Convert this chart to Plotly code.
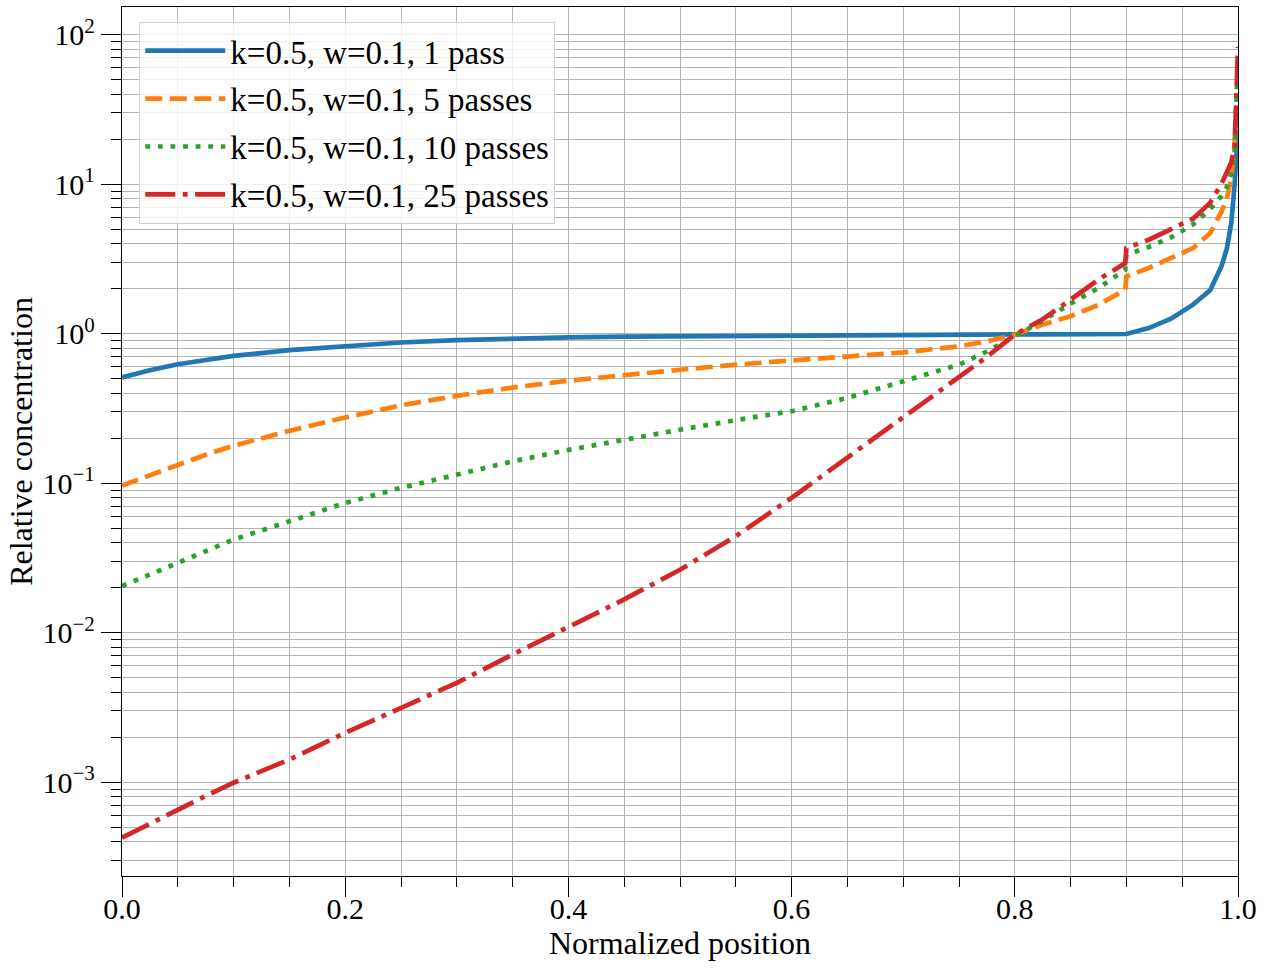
import plotly.graph_objects as go

# Normalized position sample points
x_pos = [0.0, 0.025, 0.05, 0.075, 0.1, 0.15, 0.2, 0.25, 0.3, 0.35, 0.4, 0.45, 0.5,
         0.55, 0.6, 0.65, 0.7, 0.75, 0.775, 0.8, 0.825, 0.85, 0.875, 0.899, 0.9,
         0.92, 0.94, 0.96, 0.975, 0.985, 0.99, 0.994, 0.997, 1.0]

# Relative concentration per number of passes
c_1pass = [0.509, 0.57, 0.625, 0.67, 0.71, 0.776, 0.83, 0.873, 0.905, 0.93, 0.945, 0.955, 0.962,
           0.968, 0.973, 0.978, 0.982, 0.986, 0.988, 0.99, 0.991, 0.993, 0.994, 0.995, 0.995,
           1.09, 1.26, 1.57, 1.95, 2.8, 3.7, 5.5, 10.0, 23.0]
c_5pass = [0.0964, 0.113, 0.133, 0.155, 0.178, 0.224, 0.275, 0.332, 0.384, 0.436, 0.485, 0.532, 0.574,
           0.621, 0.663, 0.705, 0.75, 0.822, 0.89, 0.985, 1.15, 1.31, 1.56, 1.97, 2.42,
           2.75, 3.2, 3.75, 4.7, 6.5, 8.0, 11.0, 19.0, 37.0]
c_10pass = [0.0205, 0.0245, 0.0293, 0.035, 0.042, 0.0556, 0.0738, 0.093, 0.114, 0.14, 0.167, 0.196, 0.228,
            0.264, 0.303, 0.372, 0.48, 0.621, 0.76, 0.96, 1.22, 1.59, 2.02, 2.68, 3.37,
            3.8, 4.4, 5.4, 6.8, 8.3, 9.6, 11.8, 16.0, 71.0]
c_25pass = [4.26e-4, 5.3e-4, 6.58e-4, 8.1e-4, 9.93e-4, 1.42e-3, 2.14e-3, 3.15e-3, 4.62e-3, 7.15e-3, 0.011, 0.0167, 0.0264,
            0.0442, 0.0798, 0.148, 0.28, 0.519, 0.70, 0.985, 1.25, 1.69, 2.3, 2.97, 3.74,
            4.25, 5.0, 5.9, 7.5, 10.0, 12.0, 14.0, 18.0, 83.0]

series_names = ["k=0.5, w=0.1, 1 pass", "k=0.5, w=0.1, 5 passes",
                "k=0.5, w=0.1, 10 passes", "k=0.5, w=0.1, 25 passes"]
series_values = [c_1pass, c_5pass, c_10pass, c_25pass]

x_tickvals = [0.0, 0.2, 0.4, 0.6, 0.8, 1.0]
x_ticktext = ["0.0", "0.2", "0.4", "0.6", "0.8", "1.0"]
y_exponents = [-3, -2, -1, 0, 1, 2]

colors = ["#1f77b4", "#ff7f0e", "#2ca02c", "#d62728"]
dashes = ["solid", "17px,7.5px", "4.8px,7.8px", "30px,7.5px,4.8px,7.5px"]

FONT = "Liberation Serif, Times New Roman, serif"

fig = go.Figure()
for i, (name, vals) in enumerate(zip(series_names, series_values)):
    fig.add_trace(go.Scatter(
        x=x_pos, y=vals, mode="lines", name=name,
        legendgroup=f"g{i}",
        line=dict(color=colors[i], width=4.7, dash=dashes[i]),
    ))

y_tickvals = [10.0 ** e for e in y_exponents]
y_ticktext = [("10<sup>" + str(e).replace("-", "\u2212") + "</sup>") for e in y_exponents]
y_minor = [m * 10.0 ** e for e in range(-4, 3) for m in range(2, 10)]

grid_color = "#b4b4b4"

fig.update_layout(
    width=1265, height=971,
    margin=dict(l=122, r=27, t=7, b=95, autoexpand=False),
    paper_bgcolor="white", plot_bgcolor="white",
    font=dict(family=FONT, size=30, color="black"),
    showlegend=True,
    legend=dict(
        x=0.0155, y=0.983, xanchor="left", yanchor="top",
        bgcolor="rgba(255,255,255,0.8)", bordercolor="#d0d0d0", borderwidth=1,
        font=dict(family=FONT, size=33, color="black"),
        tracegroupgap=2, itemwidth=80,
    ),
)

fig.update_xaxes(
    range=[0, 1], tickmode="array", tickvals=x_tickvals, ticktext=x_ticktext,
    ticks="outside", ticklen=20, tickwidth=1.3, tickcolor="black",
    showline=True, linecolor="black", linewidth=1.3, mirror=True,
    showgrid=True, gridcolor=grid_color, gridwidth=1,
    zeroline=False, automargin=False,
    tickfont=dict(family=FONT, size=30),
    ticklabelstandoff=-14,
    minor=dict(dtick=0.05, tick0=0, ticks="outside", ticklen=10, tickwidth=1.1,
               tickcolor="black", showgrid=True, gridcolor=grid_color, gridwidth=1),
    title=dict(text="Normalized position", font=dict(family=FONT, size=32), standoff=0),
)

fig.update_yaxes(
    type="log", range=[-3.627, 2.185],
    tickmode="array", tickvals=y_tickvals, ticktext=y_ticktext,
    ticks="outside", ticklen=20, tickwidth=1.3, tickcolor="black",
    showline=True, linecolor="black", linewidth=1.3, mirror=True,
    showgrid=True, gridcolor=grid_color, gridwidth=1,
    zeroline=False, automargin=False,
    tickfont=dict(family=FONT, size=30),
    minor=dict(tickmode="array", tickvals=y_minor, ticks="outside", ticklen=10, tickwidth=1.1,
               tickcolor="black", showgrid=True, gridcolor=grid_color, gridwidth=1),
    title=dict(text="Relative concentration", font=dict(family=FONT, size=32), standoff=0),
)

fig.write_html("out.html", config={"displayModeBar": False},
               post_script="document.body.style.margin='0';")
